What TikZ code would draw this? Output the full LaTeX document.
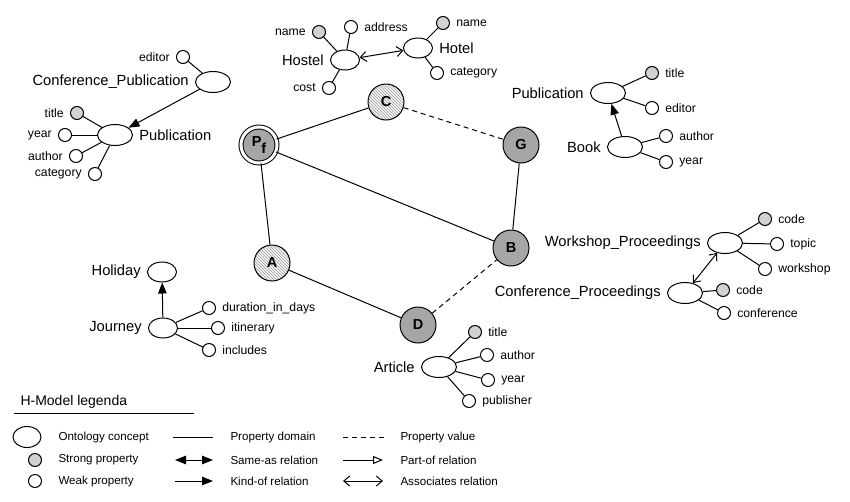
\documentclass[tikz,border=0pt]{standalone}
\usepackage{fontspec}
\setmainfont{Liberation Sans}
\usepackage{xcolor}
\usetikzlibrary{arrows.meta}
\usetikzlibrary{shapes.geometric}
\usetikzlibrary{patterns}

\begin{document}
\begin{tikzpicture}[x=1pt, y=-1pt, line width=1pt, label distance=2.5pt] %Pixelkoordinaten, y nach unten
\tikzstyle{every node} = [font=\fontsize{12.2}{14}\selectfont]
\tikzstyle{concept} = [draw, ellipse, minimum width=35pt, minimum height=21pt, inner sep=0pt, fill=white]
\tikzstyle{smallconcept} = [concept, minimum width=29pt, minimum height=20pt]
\tikzstyle{strong} = [draw, circle, minimum size=13pt, inner sep=0pt, fill=gray!35]
\tikzstyle{weak} = [draw, circle, minimum size=13pt, inner sep=0pt, fill=white]
\tikzstyle{big} = [font=\fontsize{14.7}{17}\selectfont]
\tikzstyle{hnode} = [draw, circle, minimum size=36pt, inner sep=0pt, font=\fontsize{14.5}{16}\selectfont\bfseries]
\tikzstyle{full} = [hnode, fill=gray!70]
\tikzstyle{hatched} = [hnode, preaction={fill=gray!8}, pattern=north west lines, pattern color=gray!75]
\tikzstyle{pvalue} = [dash pattern=on 5pt off 4pt]
\tikzstyle{kindof} = [-{Triangle[length=11pt,width=8.5pt]}]
\tikzstyle{sameas} = [{Triangle[length=11pt,width=8.5pt]}-{Triangle[length=11pt,width=8.5pt]}]
\tikzstyle{partof} = [-{Triangle[open,length=10pt,width=8pt]}]
\tikzstyle{assoc} = [{Straight Barb[length=6pt,width=10pt]}-{Straight Barb[length=6pt,width=10pt]}]
\tikzstyle{legtext} = [anchor=west, inner sep=0pt, font=\fontsize{11.6}{13}\selectfont]
\useasboundingbox (0,0) rectangle (850,501);

% Conference_Publication / Publication
\node[concept, label={[big]left:Conference\_Publication}] (cpub) at (213,82) {};
\node[weak, label=left:editor] (cpubed) at (183,57) {};
\draw (cpub) -- (cpubed);
\node[concept, label={[big]right:Publication}] (pub) at (115,135) {};
\node[strong, label=left:title] (pubti) at (77,113) {};
\node[weak, label=left:year] (pubye) at (65,135) {};
\node[weak, label=left:author] (pubau) at (76,156) {};
\node[weak, label=left:category] (pubca) at (95,174) {};
\foreach \p in {pubti, pubye, pubau, pubca}
\draw (pub) -- (\p);
\draw[kindof] (cpub) -- (pub);

% Hostel / Hotel
\node[smallconcept, label={[big]left:Hostel}] (hostel) at (345,60) {};
\node[strong, label=left:name] (hostna) at (319,32) {};
\node[weak, label=right:address] (hostad) at (351,27) {};
\node[weak, label=left:cost] (hostco) at (329,88) {};
\foreach \p in {hostna, hostad, hostco}
\draw (hostel) -- (\p);
\node[smallconcept, label={[big]right:Hotel}] (hotel) at (418,48) {};
\node[strong, label=right:name] (hotna) at (443,23) {};
\node[weak, label=right:category] (hotca) at (437,73) {};
\foreach \p in {hotna, hotca}
\draw (hotel) -- (\p);
\draw[assoc] (hostel) -- (hotel);

% Publication / Book
\node[concept, label={[big]left:Publication}] (pubr) at (608,93) {};
\node[strong, label=right:title] (pubrti) at (652,73) {};
\node[weak, label=right:editor] (pubred) at (652,108) {};
\foreach \p in {pubrti, pubred}
\draw (pubr) -- (\p);
\node[concept, label={[big]left:Book}] (book) at (625,147) {};
\node[weak, label=right:author] (bookau) at (666,136) {};
\node[weak, label=right:year] (bookye) at (666,162) {};
\foreach \p in {bookau, bookye}
\draw (book) -- (\p);
\draw[kindof] (book) -- (pubr);

% Workshop_Proceedings / Conference_Proceedings
\node[concept, label={[big]left:Workshop\_Proceedings}] (wproc) at (725,243) {};
\node[strong, label=right:code] (wprocco) at (765,219) {};
\node[weak, label=right:topic] (wprocto) at (777,244) {};
\node[weak, label=right:workshop] (wprocwo) at (765,269) {};
\foreach \p in {wprocco, wprocto, wprocwo}
\draw (wproc) -- (\p);
\node[concept, label={[big]left:Conference\_Proceedings}] (cproc) at (685,293) {};
\node[strong, label=right:code] (cprocco) at (723,290) {};
\node[weak, label=right:conference] (cproccf) at (724,313) {};
\foreach \p in {cprocco, cproccf}
\draw (cproc) -- (\p);
\draw[assoc] (wproc) -- (cproc);

% Holiday / Journey
\node[smallconcept, label={[big]left:Holiday}] (holiday) at (162,272) {};
\node[smallconcept, label={[big]left:Journey}] (journey) at (163,328) {};
\node[weak, label=right:duration\_in\_days] (jordu) at (209,308) {};
\node[weak, label=right:itinerary] (jorit) at (218,328) {};
\node[weak, label=right:includes] (jorin) at (209,350) {};
\foreach \p in {jordu, jorit, jorin}
\draw (journey) -- (\p);
\draw[kindof] (journey) -- (holiday);

% Article
\node[concept, label={[big]left:Article}] (article) at (439,367) {};
\node[strong, label=right:title] (artti) at (475,332) {};
\node[weak, label=right:author] (artau) at (487,355) {};
\node[weak, label=right:year] (artye) at (488,380) {};
\node[weak, label=right:publisher] (artpu) at (469,401) {};
\foreach \p in {artti, artau, artye, artpu}
\draw (article) -- (\p);

% H-Modell
\node[full, double, double distance=3pt] (pf) at (259,145) {P\raisebox{-0.8ex}{f}};
\node[hatched] (c) at (386,102) {C};
\node[full] (g) at (521,145) {G};
\node[full] (b) at (511,248) {B};
\node[hatched] (a) at (272,263) {A};
\node[full] (d) at (418,325) {D};
\foreach \from/\to in {pf/c, pf/b, pf/a, a/d, g/b}
\draw (\from) -- (\to);
\foreach \from/\to in {c/g, d/b}
\draw[pvalue] (\from) -- (\to);

% Legende
\node[anchor=west, inner sep=0pt, font=\fontsize{14}{16}\selectfont] (legtitle) at (20,402) {H-Model legenda};
\draw (14,413) -- (194,413);
\node[draw, ellipse, minimum width=28pt, minimum height=21pt] (legconcept) at (27,437) {};
\node[strong] (legstrong) at (35,460) {};
\node[weak] (legweak) at (35,481) {};
\node[legtext] (t1) at (58,437) {Ontology concept};
\node[legtext] (t2) at (58,460) {Strong property};
\node[legtext] (t3) at (58,481) {Weak property};
\draw (173,437) -- (213,437);
\draw[sameas] (175,460) -- (213,460);
\draw[kindof] (175,481) -- (213,481);
\node[legtext] (t4) at (230,437) {Property domain};
\node[legtext] (t5) at (230,460) {Same-as relation};
\node[legtext] (t6) at (230,481) {Kind-of relation};
\draw[pvalue] (343,437) -- (385,437);
\draw[partof] (343,460) -- (383,460);
\draw[assoc] (343,481) -- (383,481);
\node[legtext] (t7) at (400,437) {Property value};
\node[legtext] (t8) at (400,460) {Part-of relation};
\node[legtext] (t9) at (400,481) {Associates relation};
\end{tikzpicture}
\end{document}
